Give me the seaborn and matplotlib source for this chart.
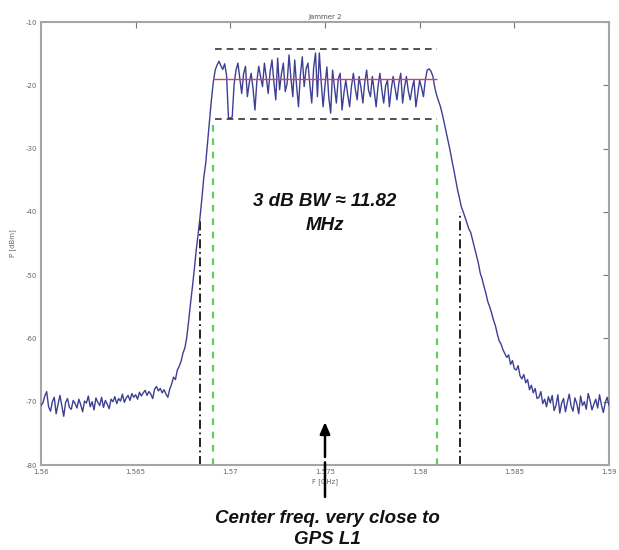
import numpy as np
import pandas as pd
import matplotlib
matplotlib.use("Agg")
import matplotlib.pyplot as plt
import seaborn as sns

# ---------------- data ----------------
f_start, f_stop = 1.56, 1.59          # GHz
power_floor_left = [
    -70.6, -70.2, -69.1, -68.4, -70.8, -71.5, -70.0, -69.3, -71.9, -70.4,
    -69.0, -70.7, -72.3, -70.1, -69.5, -70.9, -71.2, -69.8, -70.3, -71.0,
    -69.6, -70.5, -71.6, -69.9, -70.2, -69.1, -70.8, -70.0, -71.3, -69.4,
    -70.1, -70.6, -69.3, -70.9, -69.8, -70.4, -71.1, -69.6, -70.0, -69.2,
    -70.3, -69.5, -69.9, -68.8, -70.1, -69.4, -69.0, -69.8, -68.7, -69.3,
    -68.9, -69.6, -68.5, -69.1, -68.6, -68.2, -69.0, -68.4, -68.8, -69.5,
]
power_rise = [
    -68.0, -67.6, -68.3, -67.9, -68.6, -68.1, -68.8, -69.3, -68.0, -67.2,
    -66.1, -66.5, -65.0, -64.4, -63.6, -62.3, -61.5, -59.8, -57.2, -54.4,
    -51.8, -49.0, -46.0, -43.5, -40.8, -37.8, -34.5, -32.3, -29.0, -25.8,
    -22.3, -19.5,
]
power_band = [
    -17.6, -16.8, -16.2, -16.9, -17.5, -16.6, -18.4, -25.1, -25.2, -25.0,
    -19.8, -17.6, -16.5, -18.9, -21.3, -18.2, -17.0, -21.8, -19.6, -18.1,
    -20.5, -23.9, -19.4, -17.0, -18.7, -20.2, -16.5, -18.8, -21.3, -17.9,
    -16.0, -19.5, -22.3, -15.7, -20.7, -18.2, -16.5, -21.0, -19.7, -15.2,
    -18.9, -21.8, -16.0, -20.1, -23.4, -18.3, -15.5, -20.2, -17.4, -16.5,
    -19.9, -22.8, -17.2, -14.9, -21.8, -14.9, -19.5, -23.4, -20.0, -17.1,
    -21.9, -24.4, -17.6, -20.3, -22.8, -19.0, -18.1, -23.9, -21.2, -19.2,
    -21.5, -23.4, -20.1, -18.1, -20.6, -22.3, -18.6, -20.4, -22.8, -19.5,
    -17.6, -20.8, -21.8, -18.6, -20.9, -23.4, -20.2, -18.1, -20.7, -22.8,
    -20.1, -19.2, -23.4, -20.6, -18.6, -20.4, -22.3, -19.7, -18.1, -22.8,
    -20.3, -18.6, -20.9, -22.3, -20.5, -19.2, -23.4, -21.3, -19.2, -20.4,
    -21.8, -19.1, -17.6, -17.4, -17.8, -18.6, -20.4, -21.6, -22.5, -23.4,
    -24.6, -26.0, -27.4, -28.8,
]
power_fall = [
    -30.2, -31.8, -33.3, -34.9, -36.5, -37.8, -39.2, -40.0, -40.9, -41.8,
    -42.7, -43.3, -44.5, -45.7, -46.9, -48.1, -49.7, -50.6, -51.8, -52.9,
    -54.2, -55.0, -56.0, -57.1, -58.0, -59.3, -60.4, -60.9, -61.8, -62.4,
    -63.0, -62.6, -64.1, -63.5, -64.8, -65.0, -64.3, -65.9, -66.4, -65.7,
    -67.0, -66.5, -68.1, -67.4, -68.6, -67.9, -69.5, -69.3, -68.4, -70.3,
    -69.6, -70.8, -69.2, -70.2,
]
power_floor_right = [
    -69.0, -71.4, -70.6, -68.9, -71.8, -70.2, -69.5, -71.6, -70.1, -68.8,
    -70.7, -71.5, -69.4, -70.3, -71.9, -69.1, -70.6, -70.0, -71.2, -68.7,
    -69.8, -71.3, -70.4, -69.6, -71.0, -68.9, -70.5, -71.7, -70.2, -69.3,
    -70.6,
]
power = power_floor_left + power_rise + power_band + power_fall + power_floor_right
freq = np.linspace(f_start, f_stop, len(power))

bw3_edges = [1.5691, 1.58092]        # green dashed (3 dB bandwidth)
outer_edges = [1.5684, 1.58213]      # black dash-dot
outer_tops = [-41.0, -40.0]
mean_level = -19.0                   # red line
env_levels = [-14.3, -25.3]          # black dashed envelope
env_span = [1.5692, 1.5809]
center_freq = 1.575

xticks = [1.56, 1.565, 1.57, 1.575, 1.58, 1.585, 1.59]
xtick_labels = ["1.56", "1.565", "1.57", "1.575", "1.58", "1.585", "1.59"]
yticks = [-80, -70, -60, -50, -40, -30, -20, -10]
ytick_labels = ["-80", "-70", "-60", "-50", "-40", "-30", "-20", "-10"]

df = pd.DataFrame({"F [GHz]": freq, "P [dBm]": power})

# ---------------- plot ----------------
sns.set_style("white")
plt.rcParams["font.family"] = ["DejaVu Sans"]

fig = plt.figure(figsize=(6.19, 5.5), dpi=100)
ax = fig.add_axes([41 / 619, (550 - 465) / 550, 568 / 619, 443 / 550])

sns.lineplot(data=df, x="F [GHz]", y="P [dBm]", ax=ax, color="#3d3f94",
             linewidth=1.0, estimator=None, sort=False, zorder=3)

# envelope / mean
ax.hlines(env_levels, env_span[0], env_span[1], colors="#333333",
          linestyles=(0, (4, 3)), linewidth=1.2, zorder=4)
ax.hlines(mean_level, bw3_edges[0], bw3_edges[1], colors="#dd3a6a",
          linewidth=1.0, zorder=4)
# 3 dB bandwidth edges
ax.vlines(bw3_edges, -80, env_levels[1], colors="#5fd05f",
          linestyles=(0, (3, 3)), linewidth=1.6, zorder=2)
# outer edges
for x, top in zip(outer_edges, outer_tops):
    ax.vlines(x, -80, top, colors="#111111", linestyles=(0, (5, 2, 1, 2)),
              linewidth=1.3, zorder=2)

ax.set_xlim(f_start, f_stop)
ax.set_ylim(-80, -10)
ax.set_xticks(xticks)
ax.set_xticklabels(xtick_labels)
ax.set_yticks(yticks)
ax.set_yticklabels(ytick_labels)
ax.tick_params(direction="in", length=4, width=0.8, color="#777777",
               labelsize=5, labelcolor="#666666", top=True, right=True,
               pad=3)
for s in ax.spines.values():
    s.set_color("#a5a5a5")
    s.set_linewidth(1.5)
ax.set_xlabel("F [GHz]", fontsize=5, color="#666666", labelpad=2)
ax.set_ylabel("P [dBm]", fontsize=5, color="#666666", labelpad=7)
ax.set_title("Jammer 2", fontsize=5, color="#555555", pad=2)

# annotations
ax.text(center_freq, -40.2, "3 dB BW \u2248 11.82\nMHz", ha="center",
        va="center", fontsize=13.5, fontweight="bold", fontstyle="italic",
        family=["Liberation Sans", "DejaVu Sans"], linespacing=1.55,
        color="#111111")

ax.annotate("", xy=(center_freq, 0.097), xytext=(center_freq, 0.018),
            xycoords=("data", "axes fraction"),
            textcoords=("data", "axes fraction"),
            arrowprops=dict(arrowstyle="-|>,head_length=0.7,head_width=0.3",
                            color="black", lw=1.8, shrinkA=0, shrinkB=0),
            annotation_clip=False)
ax.annotate("", xy=(center_freq, 0.006), xytext=(center_freq, -0.072),
            xycoords=("data", "axes fraction"),
            textcoords=("data", "axes fraction"),
            arrowprops=dict(arrowstyle="-", color="black", lw=1.8,
                            shrinkA=0, shrinkB=0),
            annotation_clip=False)

fig.text(327 / 619, 1 - 529 / 550, "Center freq. very close to\nGPS L1",
         ha="center", va="center", fontsize=13.5, fontweight="bold",
         fontstyle="italic", family=["Liberation Sans", "DejaVu Sans"],
         linespacing=1.35, color="#111111")

fig.savefig("out.png", dpi=100)
